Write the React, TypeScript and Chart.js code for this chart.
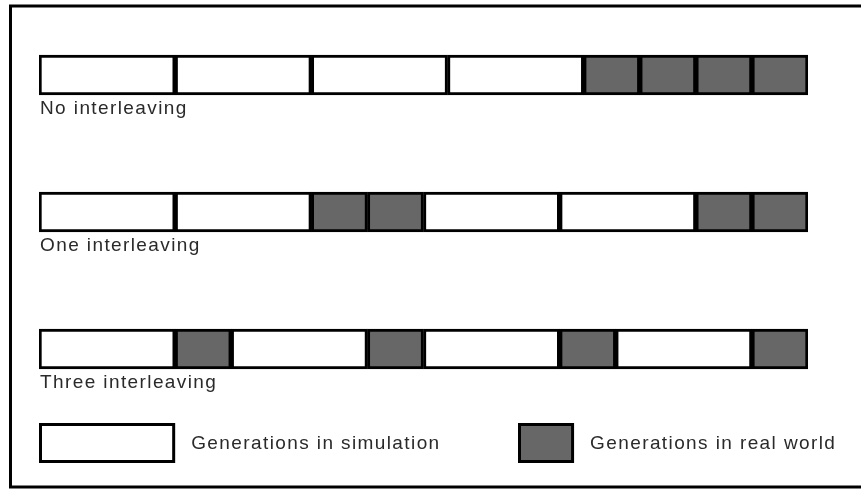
import React, { useEffect, useRef } from 'react';
import { Chart, registerables } from 'chart.js';

Chart.register(...registerables);

// ---- data ----
const ROW_LABELS = ['No interleaving', 'One interleaving', 'Three interleaving'];
const KIND_NAMES = ['Generations in simulation', 'Generations in real world'];
// duration of one generation of each kind (0 = simulation, 1 = real world)
const KIND_DURATIONS = [17, 7];
const KIND_COLORS = ['#ffffff', '#676767'];
// sequence of generation kinds per schedule
const NO_INTERLEAVING = [0, 0, 0, 0, 1, 1, 1, 1];
const ONE_INTERLEAVING = [0, 0, 1, 1, 0, 0, 1, 1];
const THREE_INTERLEAVING = [0, 1, 0, 1, 0, 1, 0, 1];
const ROW_SEQUENCES = [NO_INTERLEAVING, ONE_INTERLEAVING, THREE_INTERLEAVING];

// ---- layout / style ----
const W = 861;
const H = 489;
const FONT = '19px "Liberation Sans", Arial, Helvetica, sans-serif';
const TEXT_COLOR = '#2a2a2a';
const BORDER = 3;
const LEGEND_ITEM_X = [39, 518];
const LEGEND_TEXT_GAP = 16;
const LEGEND_TOP = 423;
const LEGEND_BOX_H = 40;

const decorPlugin = {
  id: 'decor',
  afterDraw(chart: any) {
    const ctx = chart.ctx as CanvasRenderingContext2D;
    const xs = chart.scales.x;
    const ys = chart.scales.y;
    ctx.save();
    // outer frame
    ctx.lineWidth = 3;
    ctx.strokeStyle = '#000';
    ctx.strokeRect(10.5, 6, 860, 481);

    // row labels under bars
    ctx.font = FONT;
    ctx.fillStyle = TEXT_COLOR;
    (ctx as any).letterSpacing = '1.4px';
    ctx.textBaseline = 'middle';
    ctx.textAlign = 'left';
    ROW_LABELS.forEach((label, i) => {
      ctx.fillText(label, xs.getPixelForValue(0) + 1, ys.getPixelForValue(i) + 34);
    });

    // legend
    KIND_NAMES.forEach((name, k) => {
      const bx = LEGEND_ITEM_X[k];
      const bw = xs.getPixelForValue(KIND_DURATIONS[k]) - xs.getPixelForValue(0);
      ctx.fillStyle = '#000';
      ctx.fillRect(bx, LEGEND_TOP, bw, LEGEND_BOX_H);
      ctx.fillStyle = KIND_COLORS[k];
      ctx.fillRect(bx + BORDER, LEGEND_TOP + BORDER, bw - 2 * BORDER, LEGEND_BOX_H - 2 * BORDER);
      ctx.fillStyle = TEXT_COLOR;
      ctx.fillText(name, bx + bw + LEGEND_TEXT_GAP, LEGEND_TOP + LEGEND_BOX_H / 2 + 1);
    });
    ctx.restore();
  },
};

export default function App() {
  const ref = useRef<HTMLCanvasElement | null>(null);

  useEffect(() => {
    if (!ref.current) return;
    const slots = ROW_SEQUENCES[0].length;
    const total = ROW_SEQUENCES[0].reduce((s, k) => s + KIND_DURATIONS[k], 0);
    const datasets = Array.from({ length: slots }, (_, s) => ({
      label: 'slot ' + (s + 1),
      data: ROW_SEQUENCES.map((seq) => KIND_DURATIONS[seq[s]]),
      backgroundColor: ROW_SEQUENCES.map((seq) => KIND_COLORS[seq[s]]),
      borderColor: '#000000',
      borderWidth: BORDER,
      borderSkipped: false as const,
      barThickness: 40,
    }));

    const chart = new Chart(ref.current, {
      type: 'bar',
      data: { labels: ROW_LABELS, datasets },
      options: {
        indexAxis: 'y',
        animation: false,
        responsive: false,
        devicePixelRatio: 1,
        layout: { padding: { left: 39, right: 53, top: 6.5, bottom: 71.5 } },
        scales: {
          x: { type: 'linear', stacked: true, min: 0, max: total, display: false },
          y: { type: 'category', stacked: true, display: false },
        },
        plugins: {
          legend: { display: false },
          tooltip: { enabled: false },
        },
      },
      plugins: [decorPlugin],
    });
    return () => chart.destroy();
  }, []);

  return (
    <div style={{ position: 'fixed', left: 0, top: 0, width: W, height: H, background: '#fff' }}>
      <canvas ref={ref} width={W} height={H} style={{ width: W, height: H, display: 'block' }} />
    </div>
  );
}
